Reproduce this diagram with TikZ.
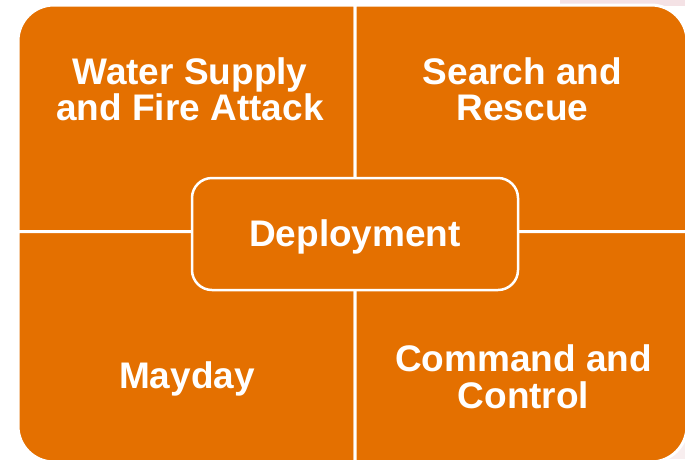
\documentclass[tikz,border=0pt]{standalone}
\usepackage{fontspec}
\setmainfont{Liberation Sans}
\definecolor{orng}{RGB}{228,112,0}
\definecolor{pinkbg}{RGB}{244,226,229}
\begin{document}
\begin{tikzpicture}[x=1pt,y=-1pt,
  lbl/.style={text=white,font=\bfseries\fontsize{37}{36}\selectfont,align=center,inner sep=0pt,anchor=base},
  quad/.style={fill=orng,draw=white,line width=3pt}]
\useasboundingbox (0,0) rectangle (685,459);
\fill[white] (0,0) rectangle (685,459);
\fill[pinkbg] (560,0) rectangle (685,6);
\fill[pinkbg!60] (650,440) rectangle (685,459);
% quadrants
\path[quad] (18,231.5) -- (18,41) arc[start angle=180,end angle=270,radius=36] -- (355,5) -- (355,231.5) -- cycle;
\path[quad] (355,5) -- (651,5) arc[start angle=-90,end angle=0,radius=36] -- (687,231.5) -- (355,231.5) -- cycle;
\path[quad] (18,231.5) -- (355,231.5) -- (355,462) -- (54,462) arc[start angle=90,end angle=180,radius=36] -- cycle;
\path[quad] (355,231.5) -- (687,231.5) -- (687,426) arc[start angle=0,end angle=90,radius=36] -- (355,462) -- cycle;
% centre
\node[draw=white,line width=2.5pt,fill=orng,rounded corners=20pt,minimum width=326pt,minimum height=112pt,inner sep=0pt] (dep) at (355,234) {};
\node[lbl] (deptext) at (355,246) {Deployment};
\node[lbl] (water) at (190,120) {Water Supply\\and Fire Attack};
\node[lbl] (search) at (522.5,120) {Search and\\Rescue};
\node[lbl] (mayday) at (187,388) {Mayday};
\node[lbl,font=\bfseries\fontsize{37}{37}\selectfont] (command) at (523.5,408) {Command and\\Control};
\end{tikzpicture}
\end{document}
